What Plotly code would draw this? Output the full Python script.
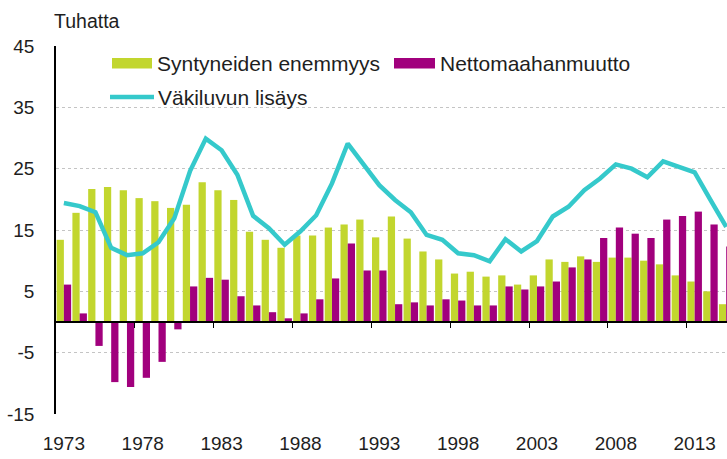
import plotly.graph_objects as go

years = list(range(1973, 2016))

syntyneiden_enemmyys = [
    13.4, 17.8, 21.7, 22.0, 21.5, 20.2, 19.7, 18.6, 19.1, 22.8,
    21.5, 19.9, 14.7, 13.4, 12.1, 14.1, 14.1, 15.4, 15.9, 16.7,
    13.8, 17.2, 13.6, 11.5, 10.2, 7.9, 8.2, 7.4, 7.6, 6.1,
    7.6, 10.2, 9.8, 10.7, 9.8, 10.5, 10.5, 10.0, 9.4, 7.6,
    6.6, 5.0, 2.9,
]

nettomaahanmuutto = [
    6.1, 1.4, -3.9, -9.8, -10.6, -9.1, -6.5, -1.2, 5.8, 7.2,
    6.9, 4.2, 2.7, 1.6, 0.6, 1.4, 3.7, 7.1, 12.8, 8.4,
    8.4, 2.9, 3.2, 2.7, 3.7, 3.5, 2.7, 2.7, 5.8, 5.3,
    5.8, 6.6, 8.9, 10.2, 13.7, 15.4, 14.4, 13.7, 16.7, 17.3,
    18.0, 15.9, 12.3,
]

vakiluvun_lisays = [
    19.4, 18.9, 17.9, 12.1, 10.9, 11.2, 13.0, 16.9, 24.6, 29.9,
    28.0, 24.0, 17.3, 15.3, 12.6, 14.8, 17.4, 22.6, 29.1, 25.6,
    22.3, 19.9, 17.9, 14.2, 13.4, 11.2, 10.9, 9.9, 13.5, 11.5,
    13.2, 17.2, 18.8, 21.5, 23.4, 25.7, 25.0, 23.6, 26.2, 25.3,
    24.4, 19.9, 15.5,
]

x_label_years = [1973, 1978, 1983, 1988, 1993, 1998, 2003, 2008, 2013]
y_tick_vals = [-15, -5, 5, 15, 25, 35, 45]
y_tick_text = ["-15", "-5", "5", "15", "25", "35", "45"]

GREEN = "#C2D62E"
PURPLE = "#A1007D"
CYAN = "#35C9CB"
FONT = "Liberation Sans, Arial, sans-serif"
TXT = "#1e1e1e"

fig = go.Figure()
fig.add_trace(go.Bar(x=years, y=syntyneiden_enemmyys, name="Syntyneiden enemmyys",
                     marker=dict(color=GREEN, line=dict(width=0)), showlegend=False))
fig.add_trace(go.Bar(x=years, y=nettomaahanmuutto, name="Nettomaahanmuutto",
                     marker=dict(color=PURPLE, line=dict(width=0)), showlegend=False))
fig.add_trace(go.Scatter(x=years, y=vakiluvun_lisays, name="Väkiluvun lisäys", mode="lines",
                         line=dict(color=CYAN, width=4.5), xaxis="x2", showlegend=False))

xrange = [1972.5, 2015.05]
boundaries = [y - 0.5 for y in x_label_years[1:]]

fig.update_layout(
    width=727, height=459,
    margin=dict(l=56, r=0, t=46, b=45),
    paper_bgcolor="white", plot_bgcolor="white",
    barmode="group", bargap=0.08, bargroupgap=0,
    font=dict(family=FONT, size=19, color=TXT),
    xaxis=dict(range=xrange, tickmode="array", tickvals=x_label_years,
               ticks="", showline=False, showgrid=False, zeroline=False,
               ticklabelstandoff=16, tickfont=dict(size=19, color=TXT)),
    xaxis2=dict(range=xrange, overlaying="x", matches="x", anchor="free", position=0.25,
                showline=True, linecolor="black", linewidth=1.5,
                ticks="outside", ticklen=5, tickwidth=1.3, tickcolor="black",
                tickmode="array", tickvals=boundaries, showticklabels=False,
                showgrid=False, zeroline=False),
    yaxis=dict(range=[-15, 45], tickmode="array", tickvals=y_tick_vals, ticktext=y_tick_text,
               showline=True, linecolor="black", linewidth=1.5, ticks="",
               showgrid=True, gridcolor="#C4C4C4", griddash="dot", gridwidth=1,
               zeroline=False, ticklabelstandoff=16, tickfont=dict(size=19, color=TXT)),
)

def px_x(px):
    return (px - 56) / 671

def px_y(py):
    return (414 - py) / 368

# Unit label
fig.add_annotation(text="Tuhatta", xref="paper", yref="paper", x=px_x(52), y=px_y(21),
                   xanchor="left", yanchor="middle", showarrow=False,
                   font=dict(size=19.5, color=TXT, family=FONT))

# Custom legend (keys as shapes, labels as real text)
fig.add_shape(type="rect", xref="paper", yref="paper", x0=px_x(112), x1=px_x(152),
              y0=px_y(68.5), y1=px_y(58), fillcolor=GREEN, line=dict(width=0))
fig.add_shape(type="rect", xref="paper", yref="paper", x0=px_x(394), x1=px_x(435),
              y0=px_y(68.5), y1=px_y(58), fillcolor=PURPLE, line=dict(width=0))
fig.add_shape(type="line", xref="paper", yref="paper", x0=px_x(110), x1=px_x(154),
              y0=px_y(97), y1=px_y(97), line=dict(color=CYAN, width=4.5))

for label, x, y in [("Syntyneiden enemmyys", 155, 63), ("Nettomaahanmuutto", 438, 63),
                    ("Väkiluvun lisäys", 156, 97)]:
    fig.add_annotation(text=label, xref="paper", yref="paper", x=px_x(x), y=px_y(y),
                       xanchor="left", yanchor="middle", showarrow=False,
                       font=dict(size=21, color=TXT, family=FONT))

# Remove the default page margin so the figure fills the window exactly.
fig.write_html(
    "out.html",
    config={"displayModeBar": False},
    post_script=("document.documentElement.style.margin='0';"
                 "document.body.style.margin='0';"
                 "document.documentElement.style.overflow='hidden';"
                 "document.body.style.overflow='hidden';"),
)
